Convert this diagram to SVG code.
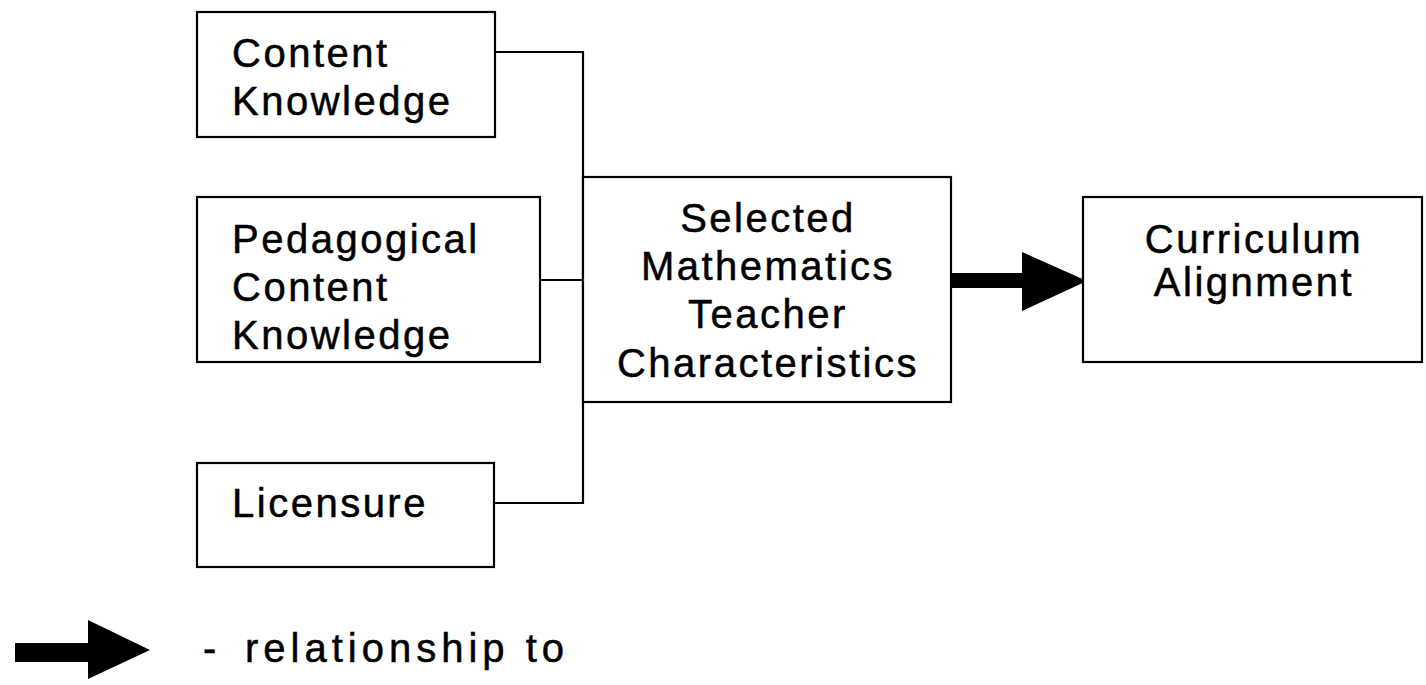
<svg xmlns="http://www.w3.org/2000/svg" width="1426" height="685" viewBox="0 0 1426 685">
<style>
.box{fill:#fff;stroke:#000;stroke-width:2.2}
.conn{fill:none;stroke:#000;stroke-width:2.2}
.t{font-family:"Liberation Sans",Arial,sans-serif;font-size:40px;letter-spacing:2.5px;fill:#000;stroke:#000;stroke-width:0.5}
.c{text-anchor:middle}
.wide{letter-spacing:5px}
</style>
<rect width="1426" height="685" fill="#fff"/>
<g id="connectors">
<polyline class="conn" points="495,52 583,52 583,503 493,503"/>
<line class="conn" x1="540" y1="280" x2="583" y2="280"/>
<g id="main-arrow">
<rect x="951" y="273" width="72" height="15" fill="#000"/>
<polygon points="1022,252 1087,281 1022,311" fill="#000"/>
</g>
</g>
<g id="content-knowledge">
<rect class="box" x="197" y="12" width="298" height="125"/>
<text class="t" x="232" y="67">Content</text>
<text class="t" x="232" y="115">Knowledge</text>
</g>
<g id="pck">
<rect class="box" x="197" y="197" width="343" height="165"/>
<text class="t" x="232" y="253">Pedagogical</text>
<text class="t" x="232" y="301">Content</text>
<text class="t" x="232" y="349">Knowledge</text>
</g>
<g id="licensure">
<rect class="box" x="197" y="463" width="297" height="104"/>
<text class="t" x="232" y="517">Licensure</text>
</g>
<g id="teacher-characteristics">
<rect class="box" x="583" y="177" width="368" height="225"/>
<text class="t c" x="768" y="232">Selected</text>
<text class="t c" x="768" y="280">Mathematics</text>
<text class="t c" x="768" y="328">Teacher</text>
<text class="t c" x="768" y="377">Characteristics</text>
</g>
<g id="curriculum-alignment">
<rect class="box" x="1083" y="197" width="339" height="165"/>
<text class="t c" x="1254" y="253">Curriculum</text>
<text class="t c" x="1254" y="296">Alignment</text>
</g>
<g id="legend">
<rect x="15" y="643" width="74" height="19" fill="#000"/>
<polygon points="88,620 150,650 88,679" fill="#000"/>
<text class="t" x="203" y="662">-<tspan x="245" class="wide">relationship to</tspan></text>
</g>
</svg>
